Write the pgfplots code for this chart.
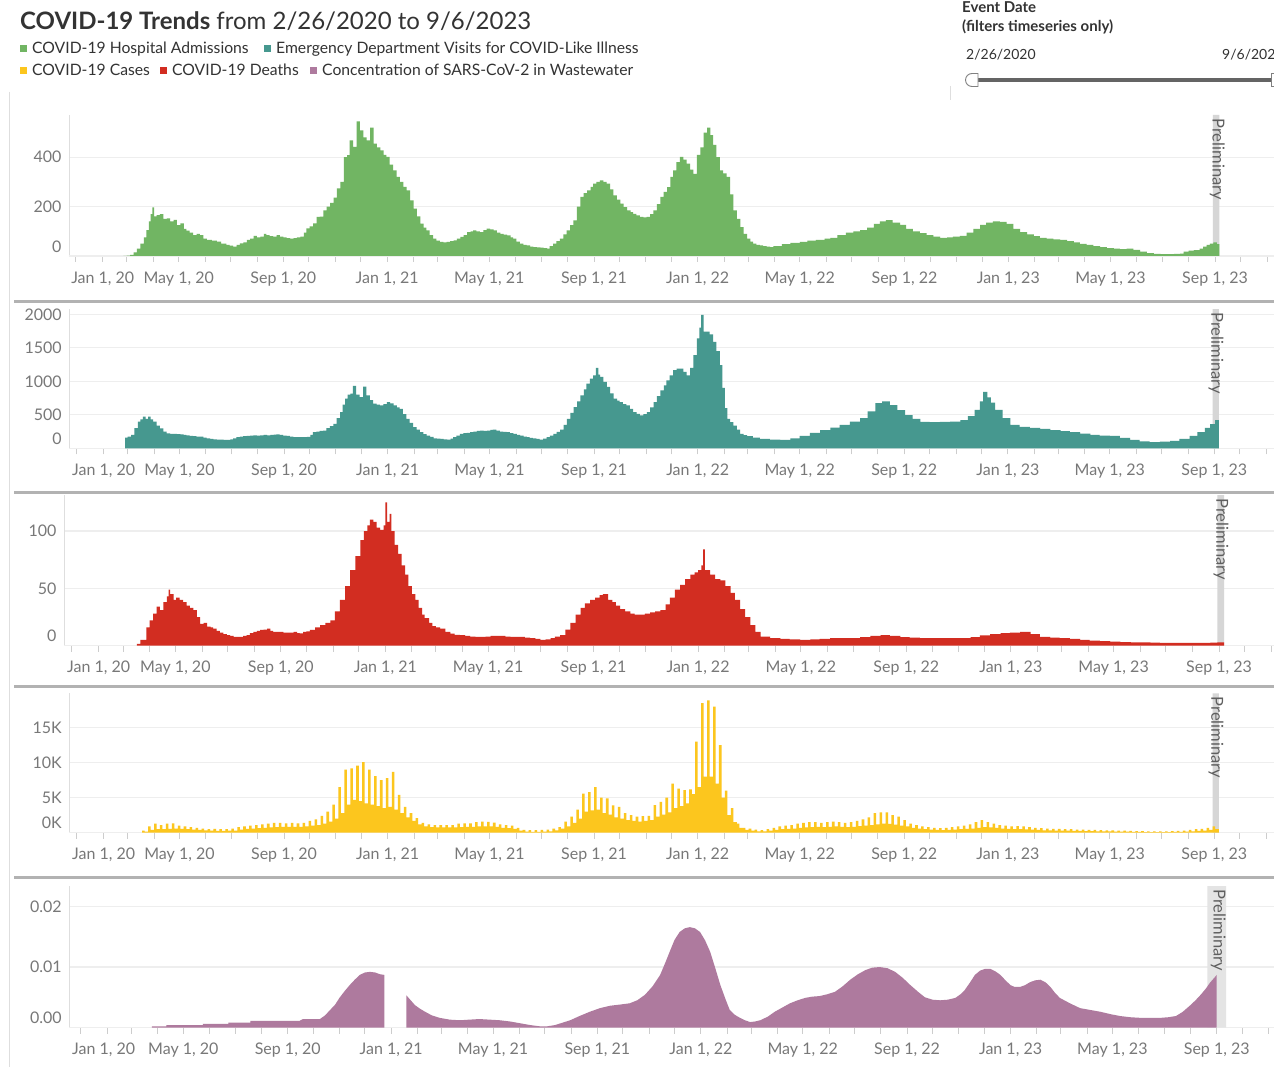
\documentclass[border=0pt]{standalone}
\usepackage{fontspec}
\setmainfont{Lato}
\usepackage{pgfplots}
\pgfplotsset{compat=1.18}
\definecolor{cgreen}{RGB}{113,181,99}
\definecolor{cteal}{RGB}{70,152,143}
\definecolor{cred}{RGB}{210,45,33}
\definecolor{cyellow}{RGB}{252,198,30}
\definecolor{cpurple}{RGB}{174,122,158}
\definecolor{bandgray}{RGB}{214,214,214}
\definecolor{bandlight}{RGB}{228,228,228}
\definecolor{gridcol}{RGB}{238,238,238}
\definecolor{axcol}{RGB}{222,222,222}
\definecolor{tickcol}{RGB}{205,205,205}
\definecolor{labelcol}{RGB}{120,120,120}
\definecolor{sepcol}{RGB}{178,178,178}
\definecolor{textcol}{RGB}{51,51,51}
\definecolor{prelcol}{RGB}{95,95,95}
\definecolor{slidercol}{RGB}{100,100,100}
\tikzset{prelim/.style={rotate=-90, anchor=west, font=\fontsize{16.5}{19}\selectfont, text=prelcol}}
\pgfplotsset{
  panel/.style={
    scale only axis, anchor=south west,
    scaled x ticks=false, scaled y ticks=false,
    axis x line=bottom, axis y line=left,
    axis line style={-, draw=axcol, line width=0.9pt},
    xtick align=outside, ytick align=inside,
    major tick length=6pt, minor tick length=6pt,
    every tick/.style={draw=tickcol, line width=0.8pt},
    ytick style={draw=none},
    ymajorgrids, grid style={draw=gridcol, line width=1.2pt},
    xtick={121,244,366,486,609,731,851,974,1096,1216,1339},
    xticklabels={May 1{,} 20,Sep 1{,} 20,Jan 1{,} 21,May 1{,} 21,Sep 1{,} 21,Jan 1{,} 22,May 1{,} 22,Sep 1{,} 22,Jan 1{,} 23,May 1{,} 23,Sep 1{,} 23},
    minor xtick={31,60,91,152,182,213,274,305,335,397,425,456,517,547,578,639,670,700,762,790,821,882,912,943,1004,1035,1065,1127,1155,1186,1247,1277,1308,1369,1400},
    extra x ticks={0}, extra x tick labels={Jan 1{,} 20},
    extra x tick style={grid=none, xticklabel style={anchor=north west, xshift=-8pt}},
    extra y ticks={0},
    extra y tick style={yticklabel style={yshift=9.5pt}},
    tick label style={font=\fontsize{16}{19}\selectfont, text=labelcol},
    yticklabel style={xshift=-4pt},
    xticklabel style={yshift=-6pt},
    ymin=0,
  },
}
\begin{document}
\begin{tikzpicture}
\path[use as bounding box] (0pt,0pt) rectangle (1274pt,-1067pt);
\clip (0pt,0pt) rectangle (1274pt,-1067pt);
\fill[white] (0pt,0pt) rectangle (1274pt,-1067pt);

% ---------- Panel 1: Hospital admissions ----------
\begin{axis}[panel, at={(69pt,-256pt)}, width=1205pt, height=141pt,
  xmin=-7.9, xmax=1408.3, ymax=571,
  ytick={200,400}, yticklabels={200,400}, extra y tick labels={0}]
\addplot[draw=none, fill=bandgray] coordinates {(1336.5,0)(1336.5,571)(1344,571)(1344,0)} \closedcycle;
\addplot[const plot, fill=cgreen, draw=none] coordinates {
(56,0)(60,2)(64,5)(68,15)(72,30)(76,50)(80,75)(83,105)(86,140)(88,170)(90,197)(92,160)(95,166)(99,170)(103,150)(107,152)(111,140)(115,146)(119,125)(123,132)(127,110)(130,103)(134,95)(138,85)(142,90)(146,85)(150,70)(154,65)(160,62)(166,58)(171,50)(177,45)(181,42)(185,38)(189,45)(193,51)(197,55)(201,65)(205,70)(209,81)(213,75)(217,78)(221,90)(224,85)(228,80)(232,78)(236,85)(240,78)(244,75)(248,72)(252,70)(256,72)(260,75)(264,78)(268,95)(271,112)(275,120)(279,132)(283,158)(287,159)(291,185)(295,200)(299,215)(303,236)(307,274)(311,300)(315,400)(319,409)(322,468)(326,442)(330,545)(334,509)(338,480)(342,468)(346,520)(350,455)(354,440)(358,428)(362,410)(365,401)(369,370)(373,347)(377,320)(381,300)(385,280)(389,266)(393,225)(397,192)(401,160)(405,131)(409,115)(412,104)(416,85)(420,70)(424,62)(428,57)(432,55)(436,57)(440,60)(444,63)(448,70)(452,77)(456,85)(460,97)(464,100)(467,104)(471,100)(475,97)(479,105)(483,111)(487,108)(491,104)(495,95)(499,90)(503,87)(507,84)(511,75)(514,70)(518,58)(522,50)(526,45)(530,43)(534,38)(538,36)(542,35)(546,34)(550,32)(554,30)(557,40)(561,50)(565,60)(569,70)(573,88)(577,104)(581,125)(585,144)(589,200)(593,239)(597,255)(601,266)(605,280)(608,293)(612,300)(616,306)(620,300)(624,293)(628,270)(632,246)(636,228)(640,212)(644,198)(648,185)(652,178)(655,171)(659,165)(663,158)(667,156)(671,158)(675,170)(679,185)(683,210)(687,239)(691,260)(695,279)(699,320)(702,347)(706,380)(710,401)(714,390)(718,374)(722,350)(726,333)(730,410)(734,440)(738,500)(742,520)(746,490)(749,450)(753,400)(757,347)(761,335)(765,320)(769,250)(773,185)(777,150)(781,117)(785,90)(789,70)(793,58)(796,50)(800,45)(804,43)(808,40)(812,38)(816,36)(820,40)(830,48)(840,53)(851,57)(860,62)(870,65)(880,70)(887,73)(895,85)(905,95)(914,100)(922,105)(930,115)(938,130)(945,140)(952,145)(960,135)(969,126)(976,110)(984,100)(992,93)(1000,85)(1008,78)(1016,73)(1024,75)(1031,78)(1039,81)(1047,95)(1055,110)(1063,126)(1070,135)(1078,140)(1086,138)(1094,130)(1102,110)(1110,97)(1118,88)(1126,80)(1133,73)(1141,70)(1149,67)(1157,65)(1165,60)(1173,55)(1180,49)(1188,45)(1196,40)(1204,36)(1212,32)(1220,30)(1227,28)(1235,30)(1243,25)(1251,18)(1259,12)(1267,9)(1275,8)(1283,8)(1291,9)(1298,10)(1302,18)(1308,22)(1314,24)(1321,30)(1325,38)(1329,45)(1333,50)(1337,55)(1341,48)(1344,45)
} \closedcycle;
\node[prelim] at (axis cs:1341.5,571) {Preliminary};
\end{axis}

% ---------- Panel 2: ED visits ----------
\begin{axis}[panel, at={(69.3pt,-448.3pt)}, width=1204.7pt, height=139.3pt,
  xmin=-8.7, xmax=1409.3, ymax=2079,
  ytick={500,1000,1500,2000}, yticklabels={500,1000,1500,2000}, extra y tick labels={0}]
\addplot[draw=none, fill=bandgray] coordinates {(1337,0)(1337,2079)(1344.5,2079)(1344.5,0)} \closedcycle;
\addplot[const plot, fill=cteal, draw=none] coordinates {
(57,160)(60,173)(64,200)(68,300)(72,397)(75,430)(78,472)(81,440)(84,472)(87,430)(90,397)(94,340)(98,298)(102,250)(106,224)(110,215)(114,214)(118,210)(122,209)(126,200)(129,194)(133,185)(137,180)(141,176)(145,174)(149,160)(153,150)(157,140)(161,134)(165,130)(169,128)(173,126)(177,124)(181,135)(184,150)(188,165)(192,174)(196,180)(200,185)(204,190)(208,194)(212,190)(216,194)(220,200)(224,194)(228,200)(232,205)(235,209)(239,200)(243,190)(247,185)(251,175)(255,165)(259,165)(263,165)(267,165)(271,170)(275,200)(278,240)(282,250)(286,260)(290,265)(294,300)(298,330)(302,365)(306,450)(310,540)(313,650)(316,740)(319,800)(322,815)(325,930)(329,800)(333,765)(337,920)(341,790)(345,720)(349,665)(353,650)(357,640)(361,660)(365,690)(369,670)(373,640)(377,610)(380,590)(384,510)(388,440)(392,380)(396,315)(400,280)(404,240)(408,210)(412,190)(416,170)(420,150)(424,145)(428,140)(432,135)(436,130)(440,145)(443,165)(447,190)(451,215)(455,225)(459,230)(463,240)(467,250)(471,260)(475,265)(479,260)(483,265)(487,275)(490,280)(494,265)(498,250)(502,245)(506,240)(510,225)(514,215)(518,200)(522,190)(526,175)(530,165)(533,155)(537,150)(541,140)(545,130)(549,145)(553,165)(557,190)(561,215)(565,245)(569,280)(573,350)(577,440)(581,530)(585,615)(589,700)(593,790)(597,880)(600,965)(604,1040)(608,1090)(611,1200)(614,1100)(616,1065)(620,990)(624,915)(628,820)(632,740)(636,710)(639,690)(643,660)(647,640)(651,590)(655,540)(659,515)(663,490)(667,510)(671,540)(675,610)(679,690)(683,780)(687,865)(691,940)(694,1015)(698,1090)(702,1165)(706,1190)(710,1190)(714,1140)(718,1090)(722,1200)(726,1390)(730,1640)(733,1800)(735,1990)(738,1740)(742,1740)(745,1700)(749,1590)(753,1450)(757,1240)(760,900)(763,600)(766,440)(769,390)(773,340)(777,280)(781,215)(785,195)(789,180)(796,160)(804,140)(816,130)(828,124)(840,150)(851,184)(863,230)(875,273)(887,310)(898,348)(910,400)(922,452)(931,550)(940,676)(948,700)(957,646)(966,570)(975,497)(984,440)(993,393)(1004,390)(1016,393)(1028,400)(1040,422)(1049,480)(1057,572)(1063,700)(1067,842)(1072,760)(1076,680)(1081,572)(1090,450)(1099,348)(1110,320)(1122,303)(1134,290)(1146,273)(1158,258)(1169,243)(1181,220)(1193,199)(1204,190)(1216,184)(1228,155)(1240,124)(1251,105)(1263,94)(1275,100)(1287,109)(1298,140)(1310,184)(1319,240)(1328,303)(1334,360)(1340,422)(1344.5,400)
} \closedcycle;
\node[prelim] at (axis cs:1341,2079) {Preliminary};
\end{axis}

% ---------- Panel 3: Deaths ----------
\begin{axis}[panel, at={(64pt,-645.7pt)}, width=1210pt, height=150.7pt,
  xmin=-9.0, xmax=1403.2, ymax=131.4,
  ytick={50,100}, yticklabels={50,100}, extra y tick labels={0}]
\addplot[draw=none, fill=bandgray] coordinates {(1337,0)(1337,131.4)(1345,131.4)(1345,0)} \closedcycle;
\addplot[const plot, fill=cred, draw=none] coordinates {
(76,1.5)(80,5)(84,5)(87,16)(91,22)(95,28)(99,34)(103,31)(107,38)(111,43)(113,49)(115,45)(119,40)(122,42)(126,40)(130,38)(134,35)(138,33)(142,31)(146,25)(150,19)(154,20)(158,16.6)(162,16)(165,15)(169,13)(173,11.3)(177,10)(181,9.3)(185,8.5)(189,7.8)(193,7.8)(196,7.8)(200,8.5)(204,9.3)(208,11)(212,12)(216,13)(220,13.7)(224,14)(228,15)(232,13)(235,12)(239,12)(243,12)(247,11.5)(251,11.3)(255,11.5)(259,12)(263,11)(266,10.8)(270,12)(274,12.5)(278,13.7)(284,16)(290,18)(296,20)(302,22)(307,30)(313,40)(319,52)(325,66)(331,78)(337,92)(341,100)(345,105)(348,110)(352,108)(356,103)(360,101)(364,105)(366,125)(368,108)(371,115)(373,100)(377,88)(381,80)(385,70)(389,62)(393,52)(397,45)(401,40)(405,33)(409,27)(412,24)(417,20)(421,17)(425,16)(430,15)(436,12)(442,10.5)(447,9.5)(453,9.3)(459,8.5)(465,8)(471,7.8)(477,7.6)(483,8)(489,8.5)(495,8.5)(500,8.5)(506,8)(512,7.8)(518,7.6)(523,7.6)(529,7)(535,6.5)(541,6)(547,5)(553,5.5)(559,6.5)(564,8)(570,9.3)(576,14)(582,20)(588,27)(594,33)(599,37)(605,40)(611,42)(616,44)(620,45)(626,40)(631,38)(635,35)(640,32)(646,30)(652,28)(657,27)(663,27)(669,28)(675,29)(681,30)(687,31)(693,36)(698,42)(704,49)(710,53)(716,58)(722,62)(727,64)(731,66)(735,70)(737,84)(739,66)(745,62)(751,58)(757,57)(763,52)(769,46)(774,40)(780,32)(786,25)(792,18)(798,12)(804,8)(815,6.7)(827,6)(838,5.5)(850,5)(862,5.5)(873,6)(885,6.5)(897,6.7)(908,6.7)(920,7.5)(932,8.5)(944,9.3)(955,8.5)(967,7.5)(978,7)(990,6.7)(1002,6.5)(1013,6.5)(1025,6.7)(1037,6.7)(1049,7.5)(1060,9)(1072,10)(1084,11)(1095,11.5)(1107,12)(1119,10)(1130,7.6)(1142,7)(1153,6.5)(1165,6)(1177,5)(1188,4.5)(1200,4)(1212,3.5)(1224,3.2)(1236,3)(1247,2.8)(1259,2.6)(1270,2.4)(1282,2.4)(1294,2.4)(1305,2.4)(1317,2.4)(1329,2.6)(1337,3)(1345,3)
} \closedcycle;
\node[prelim] at (axis cs:1341.4,131.4) {Preliminary};
\end{axis}

% ---------- Panel 4: Cases ----------
\begin{axis}[panel, at={(69.3pt,-832.7pt)}, width=1204.7pt, height=139.4pt,
  xmin=-8.7, xmax=1409.3, ymax=19920, x axis line style={dotted},
  ytick={5000,10000,15000}, yticklabels={5K,10K,15K}, extra y tick labels={0K}]
\addplot[draw=none, fill=bandgray] coordinates {(1337,0)(1337,19920)(1344.5,19920)(1344.5,0)} \closedcycle;
\addplot[const plot, fill=cyellow, draw=none] coordinates {
(77,300)(80,150)(84,900)(87,400)(91,1300)(94,500)(98,1100)(101,500)(105,1300)(108,550)(112,1330)(115,600)(119,1000)(122,550)(126,900)(129,500)(133,800)(136,450)(140,700)(143,400)(147,600)(150,350)(154,500)(157,280)(161,550)(164,250)(168,500)(171,250)(175,500)(178,280)(182,600)(185,300)(189,800)(192,450)(196,900)(199,550)(203,1000)(206,600)(210,1100)(213,650)(217,1200)(220,700)(224,1300)(227,750)(231,1400)(234,800)(238,1400)(241,850)(245,1350)(248,850)(252,1400)(255,850)(259,1350)(262,850)(266,1400)(269,900)(273,1700)(276,1000)(280,1900)(283,1100)(287,2400)(290,1300)(294,3000)(297,1600)(301,4000)(304,2000)(308,6500)(311,2800)(315,9000)(318,4000)(322,9200)(325,4700)(329,9600)(332,4500)(336,10100)(339,4200)(343,9000)(346,4000)(350,8100)(353,3800)(357,7500)(360,3500)(364,7800)(367,3700)(371,8700)(374,3300)(378,5400)(381,2800)(385,3700)(388,2200)(392,2800)(395,1700)(399,2100)(402,1200)(406,1400)(409,900)(413,1200)(416,800)(420,1100)(423,750)(427,1100)(430,750)(434,1100)(437,750)(441,1100)(444,750)(448,1300)(451,800)(455,1330)(458,850)(462,1350)(465,850)(469,1500)(472,900)(476,1570)(479,900)(483,1550)(486,900)(490,1450)(493,850)(497,1200)(500,700)(504,1100)(507,650)(511,1000)(514,550)(518,700)(521,300)(525,400)(528,150)(532,380)(535,120)(539,380)(542,120)(546,400)(549,150)(553,450)(556,200)(560,600)(563,350)(567,800)(570,600)(574,1600)(577,900)(581,2300)(584,1400)(588,3300)(591,2000)(595,5600)(598,3000)(602,5800)(605,3200)(609,6500)(612,3300)(616,5000)(619,2800)(623,4900)(626,2600)(630,3900)(633,2200)(637,3700)(640,2000)(644,2800)(647,1800)(651,2500)(654,1700)(658,2300)(661,1600)(665,2380)(668,1700)(672,2400)(675,1800)(679,3950)(682,2300)(686,4400)(689,2600)(693,5000)(696,2900)(700,7000)(703,3500)(707,6300)(710,3800)(714,6100)(717,4200)(721,6200)(724,5500)(728,13000)(731,6500)(735,18500)(738,8000)(742,18900)(745,8000)(749,18000)(752,7000)(756,12500)(759,5000)(763,6000)(766,2500)(770,3500)(773,1500)(777,1300)(780,700)(784,700)(787,400)(791,600)(794,300)(798,450)(801,200)(805,380)(808,200)(812,500)(815,300)(819,700)(822,400)(826,900)(829,500)(833,1000)(836,550)(840,1100)(843,600)(847,1300)(850,700)(854,1400)(857,750)(861,1500)(864,800)(868,1500)(871,850)(875,1400)(878,800)(882,1500)(885,850)(889,1600)(892,900)(896,1500)(899,850)(903,1400)(906,800)(910,1500)(913,850)(917,1700)(920,950)(924,1900)(927,1000)(931,2200)(934,1100)(938,2800)(941,1200)(945,2900)(948,1300)(952,2900)(955,1250)(959,2500)(962,1150)(966,2300)(969,1000)(973,1800)(976,900)(980,1300)(983,700)(987,1100)(990,600)(994,900)(997,500)(1001,800)(1004,450)(1008,700)(1011,400)(1015,650)(1018,380)(1022,700)(1025,400)(1029,800)(1032,450)(1036,900)(1039,500)(1043,1000)(1046,550)(1050,1200)(1053,600)(1057,1500)(1060,700)(1064,1800)(1067,800)(1071,1500)(1074,750)(1078,1300)(1081,700)(1085,1100)(1088,600)(1092,1000)(1095,550)(1099,900)(1102,500)(1106,950)(1109,500)(1113,900)(1116,480)(1120,800)(1123,450)(1127,700)(1130,400)(1134,650)(1137,350)(1141,600)(1144,320)(1148,550)(1151,300)(1155,550)(1158,300)(1162,500)(1165,280)(1169,500)(1172,270)(1176,450)(1179,250)(1183,450)(1186,240)(1190,400)(1193,220)(1197,400)(1200,200)(1204,380)(1207,200)(1211,350)(1214,180)(1218,320)(1221,170)(1225,300)(1228,150)(1232,280)(1235,140)(1239,260)(1242,120)(1246,240)(1249,110)(1253,220)(1256,100)(1260,200)(1263,100)(1267,200)(1270,100)(1274,200)(1277,100)(1281,200)(1284,100)(1288,220)(1291,110)(1295,250)(1298,120)(1302,300)(1305,150)(1309,400)(1312,200)(1316,500)(1319,250)(1323,550)(1326,300)(1330,700)(1333,400)(1337,900)(1340,500)(1344.5,500)
} \closedcycle;
\node[prelim] at (axis cs:1341,19920) {Preliminary};
\end{axis}

% ---------- Panel 5: Wastewater ----------
\begin{axis}[panel, at={(69.3pt,-1027.5pt)}, width=1204.7pt, height=141.5pt,
  xmin=-13.4, xmax=1406.5, ymax=0.0234, x axis line style={dotted},
  extra x tick style={xticklabel style={xshift=-4pt}},
  ytick={0.01,0.02}, yticklabels={0.01,0.02}, extra y tick labels={0.00}]
\addplot[draw=none, fill=bandlight] coordinates {(1328,0)(1328,0.0234)(1350,0.0234)(1350,0)} \closedcycle;
\addplot[fill=cpurple, draw=none] coordinates {
(84,0.0002)(101,0.0002)(101,0.0004)(144,0.0004)(144,0.0006)(174,0.0006)(174,0.0008)(200,0.0008)(200,0.0011)(258,0.0011)(262,0.0014)(282,0.0014)(288,0.002)(294,0.0029)(300,0.0038)(305,0.0049)(311,0.006)(317,0.007)(323,0.0079)(329,0.0087)(335,0.0091)(341,0.0092)(347,0.0091)(353,0.0088)(358,0.0087)
} \closedcycle;
\addplot[fill=cpurple, draw=none] coordinates {
(384,0.0053)(389,0.0045)(394,0.0037)(400,0.0031)(406,0.0026)(414,0.002)(423,0.0016)(435,0.0013)(447,0.0012)(458,0.0013)(470,0.0014)(482,0.0013)(494,0.0012)(506,0.001)(518,0.0007)(530,0.0004)(541,0.0002)(550,0.0002)(559,0.0004)(568,0.0008)(577,0.0012)(588,0.0019)(600,0.0026)(612,0.0032)(624,0.0036)(636,0.0038)(647,0.004)(656,0.0045)(665,0.0054)(674,0.0068)(683,0.0087)(689,0.0107)(695,0.0128)(700,0.0145)(706,0.0158)(712,0.0164)(718,0.0166)(724,0.0164)(730,0.0158)(736,0.0144)(742,0.0125)(748,0.0098)(754,0.007)(760,0.0047)(765,0.0029)(771,0.0021)(777,0.0016)(783,0.0012)(789,0.0009)(795,0.001)(801,0.0012)(810,0.0018)(818,0.0026)(827,0.0033)(836,0.004)(845,0.0045)(854,0.0049)(862,0.0051)(871,0.0052)(880,0.0055)(889,0.0059)(898,0.0068)(907,0.0079)(916,0.0088)(925,0.0095)(933,0.0099)(942,0.0100)(951,0.0098)(960,0.0092)(969,0.0082)(978,0.007)(987,0.0059)(995,0.005)(1004,0.0046)(1013,0.0045)(1022,0.0046)(1031,0.0049)(1037,0.0055)(1042,0.0062)(1048,0.0074)(1054,0.0087)(1060,0.0094)(1066,0.0097)(1072,0.0097)(1078,0.0093)(1084,0.0087)(1090,0.0078)(1096,0.007)(1101,0.0067)(1107,0.0067)(1113,0.007)(1119,0.0075)(1125,0.0078)(1131,0.0079)(1137,0.0075)(1143,0.0067)(1148,0.0058)(1154,0.0049)(1166,0.004)(1178,0.0032)(1190,0.0029)(1202,0.0026)(1214,0.0022)(1225,0.0019)(1237,0.0017)(1249,0.0016)(1261,0.0016)(1273,0.0016)(1282,0.0017)(1291,0.0019)(1299,0.0026)(1308,0.0037)(1314,0.0045)(1320,0.0054)(1326,0.0064)(1331,0.0074)(1336,0.0082)(1339,0.0087)
} \closedcycle;
\node[prelim] at (axis cs:1340.8,0.0234) {Preliminary};
\end{axis}

% ---------- separators and borders ----------
\draw[sepcol, line width=3pt] (14pt,-301.5pt) -- (1274pt,-301.5pt);
\draw[sepcol, line width=3pt] (14pt,-492.5pt) -- (1274pt,-492.5pt);
\draw[sepcol, line width=3pt] (14pt,-686pt) -- (1274pt,-686pt);
\draw[sepcol, line width=3pt] (14pt,-877.5pt) -- (1274pt,-877.5pt);
\draw[axcol, line width=1pt] (9.5pt,-92pt) -- (9.5pt,-1067pt);
\draw[axcol, line width=1pt] (950pt,-86pt) -- (950pt,-100pt);

% ---------- header ----------
\node[anchor=base west, inner sep=0, text=textcol] at (20pt,-30pt)
  {\fontsize{24}{28}\selectfont\textbf{COVID-19 Trends} from 2/26/2020 to 9/6/2023};
\fill[cgreen] (20pt,-45pt) rectangle (27pt,-52pt);
\node[anchor=base west, inner sep=0, text=textcol] at (32pt,-53.5pt) {\fontsize{15.7}{18}\selectfont COVID-19 Hospital Admissions};
\fill[cteal] (264pt,-45pt) rectangle (271pt,-52pt);
\node[anchor=base west, inner sep=0, text=textcol] at (276pt,-53.5pt) {\fontsize{15.7}{18}\selectfont Emergency Department Visits for COVID-Like Illness};
\fill[cyellow] (20pt,-67pt) rectangle (27pt,-74pt);
\node[anchor=base west, inner sep=0, text=textcol] at (32pt,-75.5pt) {\fontsize{15.7}{18}\selectfont COVID-19 Cases};
\fill[cred] (160pt,-67pt) rectangle (167pt,-74pt);
\node[anchor=base west, inner sep=0, text=textcol] at (172pt,-75.5pt) {\fontsize{15.7}{18}\selectfont COVID-19 Deaths};
\fill[cpurple] (310pt,-67pt) rectangle (317pt,-74pt);
\node[anchor=base west, inner sep=0, text=textcol] at (322pt,-75.5pt) {\fontsize{15.7}{18}\selectfont Concentration of SARS-CoV-2 in Wastewater};

% ---------- slider ----------
\node[anchor=base west, inner sep=0, text=textcol] at (962pt,-12.5pt) {\fontsize{15}{18}\selectfont\bfseries Event Date};
\node[anchor=base west, inner sep=0, text=textcol] at (962pt,-31.5pt) {\fontsize{15}{18}\selectfont\bfseries (filters timeseries only)};
\node[anchor=base west, inner sep=0, text=textcol] at (966pt,-59.5pt) {\fontsize{14}{17}\selectfont 2/26/2020};
\node[anchor=base west, inner sep=0, text=textcol] at (1222pt,-59.5pt) {\fontsize{14}{17}\selectfont 9/6/2023};
\draw[slidercol, line width=4pt] (976pt,-80pt) -- (1274pt,-80pt);
\draw[fill=white, draw=gray, line width=0.9pt] (978pt,-73.5pt) -- (972pt,-73.5pt) arc[start angle=90, end angle=270, radius=6.5pt] -- (978pt,-86.5pt) -- cycle;
\draw[fill=white, draw=gray, line width=0.9pt] (1271pt,-73.5pt) -- (1277pt,-73.5pt) -- (1277pt,-86.5pt) -- (1271pt,-86.5pt) -- cycle;
\end{tikzpicture}
\end{document}
